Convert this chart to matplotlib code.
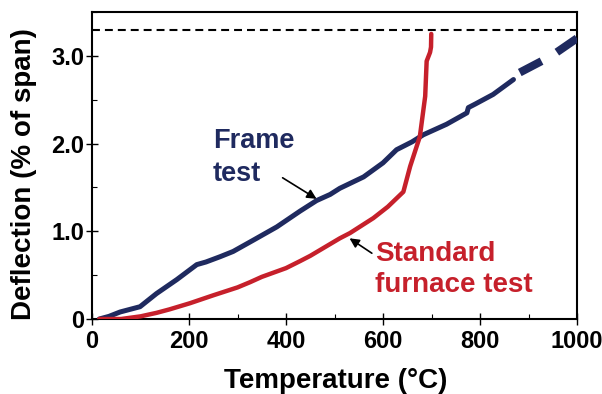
import matplotlib
matplotlib.use('Agg')
import matplotlib.pyplot as plt
from matplotlib.ticker import MultipleLocator, FixedLocator

# ---- data ----
frame_temp = [15, 35, 58, 99, 133, 175, 216, 235, 264, 291, 333, 381, 429, 463,
              491, 511, 560, 600, 628, 660, 683, 731, 773, 776, 790, 827, 869]
frame_defl = [0.0, 0.03, 0.08, 0.14, 0.29, 0.45, 0.62, 0.65, 0.71, 0.77, 0.90,
              1.05, 1.23, 1.35, 1.42, 1.49, 1.62, 1.78, 1.93, 2.02, 2.10, 2.22,
              2.35, 2.41, 2.45, 2.56, 2.73]
frame_ext_temp = [882, 927, 958, 1000]
frame_ext_defl = [2.81, 2.94, 3.04, 3.20]

furnace_temp = [15, 60, 100, 133, 160, 202, 250, 300, 326, 350, 400, 429, 450,
                511, 532, 580, 610, 642, 656, 666, 676, 687, 690, 697, 699, 699.5]
furnace_defl = [0.0, 0.0, 0.03, 0.07, 0.11, 0.18, 0.27, 0.36, 0.42, 0.48, 0.58,
                0.66, 0.72, 0.92, 0.98, 1.15, 1.28, 1.45, 1.74, 1.91, 2.08, 2.54,
                2.94, 3.04, 3.10, 3.25]

limit_defl = 3.3

x_ticks = [0, 200, 400, 600, 800, 1000]
x_tick_labels = ['0', '200', '400', '600', '800', '1000']
y_ticks = [0, 1, 2, 3]
y_tick_labels = ['0', '1.0', '2.0', '3.0']

NAVY = '#1f2a5f'
RED = '#c6202b'

plt.rcParams['font.family'] = ['Liberation Sans', 'DejaVu Sans']
plt.rcParams['font.weight'] = 'bold'

fig = plt.figure(figsize=(6.02, 3.94), dpi=100)
ax = fig.add_axes([92 / 602, 1 - 319 / 394, 485 / 602, 307 / 394])

ax.axhline(limit_defl, color='black', lw=1.5, linestyle=(0, (3.8, 2.4)))

ax.plot(frame_temp, frame_defl, color=NAVY, lw=3.6, solid_capstyle='round',
        solid_joinstyle='round', zorder=3)
ax.plot(frame_ext_temp, frame_ext_defl, color=NAVY, lw=5.8,
        linestyle=(0, (3.05, 2.2)), dash_capstyle='butt', zorder=3)
ax.plot(furnace_temp, furnace_defl, color=RED, lw=3.2, solid_capstyle='round',
        solid_joinstyle='round', zorder=4)

ax.set_xlim(0, 1000)
ax.set_ylim(0, 3.5)

ax.xaxis.set_major_locator(FixedLocator(x_ticks))
ax.set_xticklabels(x_tick_labels)
ax.xaxis.set_minor_locator(MultipleLocator(100))
ax.yaxis.set_major_locator(FixedLocator(y_ticks))
ax.set_yticklabels(y_tick_labels)
ax.yaxis.set_minor_locator(MultipleLocator(0.5))

ax.tick_params(axis='both', which='major', direction='inout', length=8.5,
               width=1.0, labelsize=17, colors='black')
ax.tick_params(axis='both', which='minor', direction='in', length=3.4, width=0.8)
ax.tick_params(axis='x', which='major', pad=4)
ax.tick_params(axis='y', which='major', pad=1.5)
for lab in ax.get_xticklabels() + ax.get_yticklabels():
    lab.set_fontweight('bold')

for s in ax.spines.values():
    s.set_linewidth(1.5)
    s.set_color('black')

ax.set_xlabel('Temperature (°C)', fontsize=20, fontweight='bold')
ax.xaxis.label.set_verticalalignment('baseline')
ax.xaxis.set_label_coords(0.503, (319 - 388) / 307)
ax.set_ylabel('Deflection (% of span)', fontsize=20, fontweight='bold')
ax.yaxis.label.set_verticalalignment('center')
ax.yaxis.set_label_coords((24 - 92) / 485, (319 - 174) / 307)

# annotations
ax.text(249, 1.95, 'Frame', color=NAVY, fontsize=19.5, fontweight='bold',
        ha='left', va='baseline')
ax.text(249, 1.57, 'test', color=NAVY, fontsize=19.5, fontweight='bold',
        ha='left', va='baseline')
ax.annotate('', xy=(463, 1.37), xytext=(393, 1.61),
            arrowprops=dict(arrowstyle='-|>', color='black', lw=1.2,
                            mutation_scale=14, shrinkA=0, shrinkB=0))

ax.text(583, 0.663, 'Standard', color=RED, fontsize=20, fontweight='bold',
        ha='left', va='baseline')
ax.text(583, 0.31, 'furnace test', color=RED, fontsize=20, fontweight='bold',
        ha='left', va='baseline')
ax.annotate('', xy=(531, 0.92), xytext=(577, 0.75),
            arrowprops=dict(arrowstyle='-|>', color='black', lw=1.2,
                            mutation_scale=14, shrinkA=0, shrinkB=0))

fig.savefig('out.png', dpi=100)
